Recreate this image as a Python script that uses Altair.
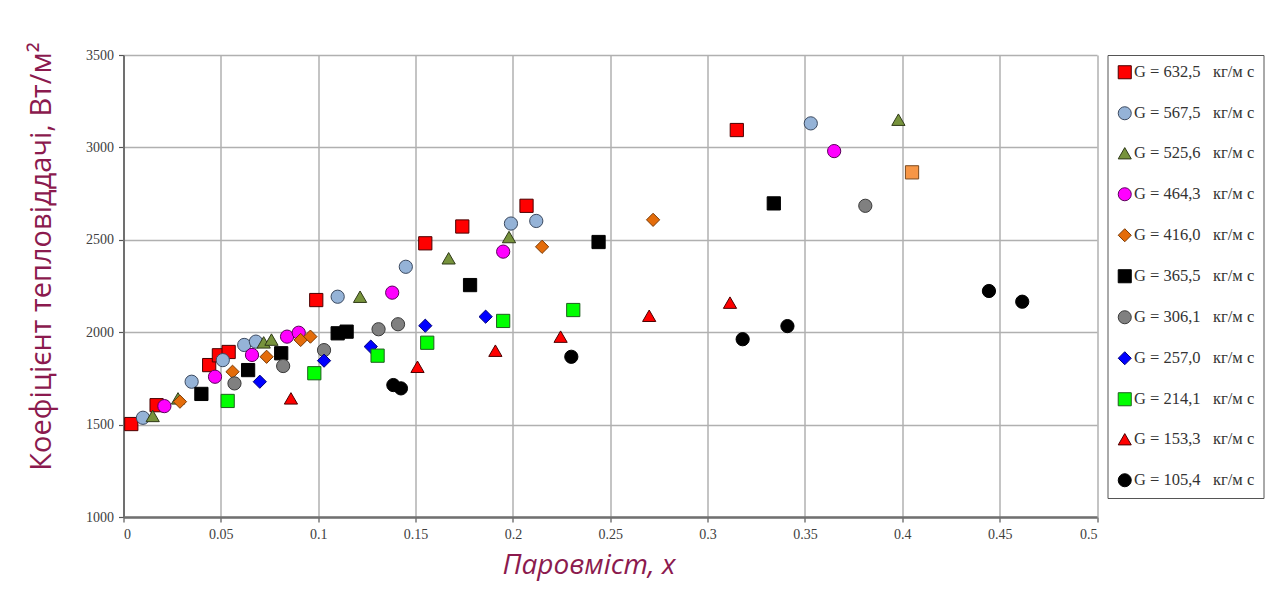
import altair as alt
import pandas as pd

NB = "\u00a0"
labels = [
    "G = 632,5  кг/м с", "G = 567,5  кг/м с", "G = 525,6  кг/м с",
    "G = 464,3  кг/м с", "G = 416,0  кг/м с", "G = 365,5  кг/м с",
    "G = 306,1  кг/м с", "G = 257,0  кг/м с", "G = 214,1  кг/м с",
    "G = 153,3  кг/м с", "G = 105,4  кг/м с",
]

x_6325 = [0.004, 0.017, 0.044, 0.049, 0.054, 0.099, 0.155, 0.174, 0.207, 0.315]
y_6325 = [1503, 1605, 1822, 1875, 1893, 2174, 2481, 2572, 2684, 3094]

x_5675 = [0.010, 0.035, 0.051, 0.062, 0.068, 0.110, 0.145, 0.199, 0.212, 0.353]
y_5675 = [1537, 1732, 1849, 1931, 1949, 2192, 2354, 2588, 2602, 3130]

x_5256 = [0.015, 0.028, 0.072, 0.076, 0.1215, 0.167, 0.198, 0.398]
y_5256 = [1547, 1642, 1945, 1960, 2192, 2400, 2515, 3150]

x_4643 = [0.021, 0.047, 0.066, 0.084, 0.090, 0.138, 0.195, 0.365]
y_4643 = [1600, 1759, 1877, 1976, 1997, 2214, 2436, 2980]

x_4160 = [0.029, 0.056, 0.0735, 0.091, 0.096, 0.215, 0.272]
y_4160 = [1624, 1786, 1867, 1958, 1976, 2462, 2608]

x_3655 = [0.040, 0.064, 0.081, 0.110, 0.1146, 0.178, 0.244, 0.334]
y_3655 = [1666, 1795, 1886, 1994, 2003, 2255, 2488, 2697]

x_3061 = [0.057, 0.082, 0.103, 0.131, 0.141, 0.381]
y_3061 = [1723, 1817, 1903, 2016, 2043, 2684]

x_2570 = [0.070, 0.103, 0.127, 0.155, 0.186]
y_2570 = [1732, 1846, 1922, 2035, 2084]

x_2141 = [0.0535, 0.098, 0.1305, 0.156, 0.195, 0.231]
y_2141 = [1628, 1778, 1873, 1943, 2061, 2120]

x_1533 = [0.086, 0.151, 0.191, 0.2245, 0.270, 0.3115]
y_1533 = [1642, 1813, 1900, 1976, 2089, 2160]

x_1054 = [0.1386, 0.1425, 0.230, 0.318, 0.341, 0.4445, 0.4616]
y_1054 = [1714, 1696, 1867, 1962, 2033, 2223, 2165]

# stray point drawn with a different marker in the original
x_extra = [0.405]
y_extra = [2865]

fills = ["#FF0000", "#95B3D7", "#77933C", "#FF00FF", "#E46C0A", "#000000",
         "#808080", "#0000FF", "#00FF00", "#FF0000", "#000000"]
strokes = ["#4a0000", "#3c4a60", "#2f3a18", "#5a005a", "#7a3a05", "#000000",
           "#3a3a3a", "#00007a", "#1f5f1f", "#4a0000", "#000000"]
shapes = ["square", "circle", "triangle-up", "circle", "diamond", "square",
          "circle", "diamond", "square", "triangle-up", "circle"]

xs = [x_6325, x_5675, x_5256, x_4643, x_4160, x_3655, x_3061, x_2570, x_2141, x_1533, x_1054]
ys = [y_6325, y_5675, y_5256, y_4643, y_4160, y_3655, y_3061, y_2570, y_2141, y_1533, y_1054]

# keep the wide gap visible in SVG text
shown = [lab.replace("  ", NB * 3) for lab in labels]

rows = []
for lab, xx, yy in zip(shown, xs, ys):
    for a, b in zip(xx, yy):
        rows.append({"series": lab, "x": a, "y": b})
df = pd.DataFrame(rows)
df_extra = pd.DataFrame({"x": x_extra, "y": y_extra})

PLOT_L, PLOT_T, PLOT_R, PLOT_B = 123.5, 55, 1097, 517
W = PLOT_R - PLOT_L
H = PLOT_B - PLOT_T

title_color = "#8B1A4E"

xscale = alt.Scale(domain=[0, 0.5], nice=False)
yscale = alt.Scale(domain=[1000, 3500], nice=False, zero=False)

xaxis = alt.Axis(
    values=[0, 0.05, 0.1, 0.15, 0.2, 0.25, 0.3, 0.35, 0.4, 0.45, 0.5],
    format="~g", title="Паровміст, x",
    titleFont="Open Sans", titleFontStyle="italic", titleFontWeight="normal",
    titleFontSize=28, titleColor=title_color,
    titleX=465, titleY=48, titleBaseline="middle",
    labelFont="Liberation Serif", labelFontSize=14, labelColor="#404040",
    labelPadding=5, tickSize=5, tickColor="#555555", tickWidth=1.2,
    domainColor="#707070", domainWidth=2.5,
    grid=True, gridColor="#b0b0b0", gridWidth=1.5,
)
yaxis = alt.Axis(
    values=[1000, 1500, 2000, 2500, 3000, 3500],
    format="d", title="Коефіцієнт тепловіддачі, Вт/м²",
    titleFont="Open Sans", titleFontWeight="normal",
    titleFontSize=29, titleColor=title_color,
    titleX=-82, titleY=201, titleAlign="center", titleBaseline="middle", titleAngle=270,
    labelFont="Liberation Serif", labelFontSize=14, labelColor="#404040",
    labelPadding=5, tickSize=5, tickColor="#555555", tickWidth=1.2,
    domainColor="#707070", domainWidth=2,
    grid=True, gridColor="#b0b0b0", gridWidth=1.5,
)

legend = alt.Legend(
    title=None, orient="none", legendX=984, legendY=0,
    labelFont="Liberation Serif", labelFontSize=16.5, labelColor="#333333",
    symbolSize=170, symbolStrokeWidth=1, rowPadding=23,
    padding=9, strokeColor="#555555", fillColor="white", labelOffset=1,
    labelLimit=300,
)

points = alt.Chart(df).mark_point(filled=True, size=175, strokeWidth=1, opacity=1).encode(
    x=alt.X("x:Q", scale=xscale, axis=xaxis),
    y=alt.Y("y:Q", scale=yscale, axis=yaxis),
    fill=alt.Fill("series:N", scale=alt.Scale(domain=shown, range=fills), legend=legend),
    stroke=alt.Stroke("series:N", scale=alt.Scale(domain=shown, range=strokes), legend=legend),
    shape=alt.Shape("series:N", scale=alt.Scale(domain=shown, range=shapes), legend=legend),
)

extra = alt.Chart(df_extra).mark_point(filled=True, size=175, strokeWidth=1, opacity=1).encode(
    x=alt.X("x:Q", scale=xscale),
    y=alt.Y("y:Q", scale=yscale),
    fill=alt.value("#F79646"),
    stroke=alt.value("#7a4a20"),
    shape=alt.value("square"),
)

chart = alt.layer(points, extra).properties(
    width=W, height=H,
    autosize=alt.AutoSizeParams(type="none"),
    padding={"left": PLOT_L - 8, "top": PLOT_T - 8, "right": 1277 - 8 - PLOT_R, "bottom": 590 - 8 - PLOT_B},
    background="white",
).configure_view(stroke=None)

chart.save("out.html", embed_options={"renderer": "svg", "actions": False})
